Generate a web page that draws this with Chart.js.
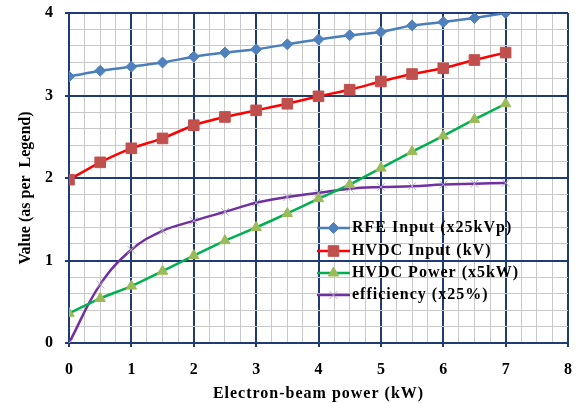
<!DOCTYPE html>
<html>
<head>
<meta charset="utf-8">
<script src="https://cdn.jsdelivr.net/npm/chart.js@4/dist/chart.umd.min.js"></script>
<style>
  body { margin: 0; background: #fff; }
  canvas { display: block; }
</style>
</head>
<body>
<canvas id="chart" width="582" height="403"></canvas>
<script>
const beamPower = [0, 0.5, 1, 1.5, 2, 2.5, 3, 3.5, 4, 4.5, 5, 5.5, 6, 6.5, 7];
const rfeInput = [3.23, 3.30, 3.35, 3.40, 3.47, 3.52, 3.56, 3.62, 3.68, 3.73, 3.77, 3.85, 3.89, 3.94, 4.00];
const hvdcInput = [1.98, 2.19, 2.36, 2.48, 2.64, 2.74, 2.82, 2.90, 2.99, 3.07, 3.17, 3.26, 3.33, 3.43, 3.52];
const hvdcPower = [0.36, 0.54, 0.69, 0.87, 1.06, 1.24, 1.40, 1.57, 1.75, 1.92, 2.12, 2.32, 2.51, 2.71, 2.90];
const efficiency = [0, 0.71, 1.13, 1.36, 1.48, 1.59, 1.70, 1.77, 1.82, 1.87, 1.89, 1.90, 1.92, 1.93, 1.94];

const seriesNames = ["RFE Input (x25kVp)", "HVDC Input (kV)", "HVDC Power (x5kW)", "efficiency (x25%)"];
const xTitle = "Electron-beam power (kW)";
const yTitle = "Value (as per  Legend)";

const serif = '"Liberation Serif", "Times New Roman", serif';
const major = "#1F3B73";
const minor = "#C8C8C8";

const pts = arr => beamPower.map((x, i) => ({ x: x, y: arr[i] }));
const isMajor = v => Math.abs(v - Math.round(v)) < 1e-6;

// legend drawn inside plot area
const insideLegend = {
  id: "insideLegend",
  afterDraw(chart) {
    const ctx = chart.ctx;
    const x0 = 317, x1 = 350, tx = 352;
    const rows = [228, 251, 273, 295];
    ctx.save();
    chart.data.datasets.forEach((ds, i) => {
      const y = rows[i];
      ctx.strokeStyle = ds.borderColor;
      ctx.lineWidth = ds.borderWidth;
      ctx.beginPath();
      ctx.moveTo(x0, y);
      ctx.lineTo(x1, y);
      ctx.stroke();
      ctx.fillStyle = ds.pointBackgroundColor;
      ctx.strokeStyle = ds.pointBorderColor;
      ctx.lineWidth = ds.pointBorderWidth;
      Chart.helpers.drawPoint(ctx, {
        pointStyle: ds.pointStyle, radius: ds.pointRadius, rotation: 0, borderWidth: ds.pointBorderWidth
      }, (x0 + x1) / 2, y);
      ctx.fillStyle = "#000";
      ctx.font = "bold 16px " + serif;
      ctx.letterSpacing = "1px";
      ctx.textBaseline = "middle";
      ctx.textAlign = "left";
      ctx.fillText(ds.label, tx, y);
    });
    ctx.restore();
  }
};

// wider x title, y title nudged down like the original
const titleTweak = {
  id: "titleTweak",
  afterUpdate(chart) {
    Object.values(chart.scales).forEach(s => {
      if (s._tweaked) return;
      s._tweaked = true;
      const proto = Object.getPrototypeOf(s);
      s.drawTitle = function () {
        const ctx = this.ctx;
        ctx.save();
        if (this.axis === "x") ctx.letterSpacing = "1px";
        else ctx.translate(0, 10);
        proto.drawTitle.call(this);
        ctx.restore();
      };
    });
  }
};

new Chart(document.getElementById("chart"), {
  type: "line",
  data: {
    datasets: [
      {
        label: seriesNames[0], data: pts(rfeInput),
        borderColor: "#4A7EBB", borderWidth: 2.5, tension: 0.15,
        pointStyle: "rectRot", pointRadius: 5.5,
        pointBackgroundColor: "#4F81BD", pointBorderColor: "#4F81BD", pointBorderWidth: 1
      },
      {
        label: seriesNames[1], data: pts(hvdcInput),
        borderColor: "#FF0000", borderWidth: 2.5, tension: 0.15,
        pointStyle: "rect", pointRadius: 7.5,
        pointBackgroundColor: "#C0504D", pointBorderColor: "#C0504D", pointBorderWidth: 1
      },
      {
        label: seriesNames[2], data: pts(hvdcPower),
        borderColor: "#00B050", borderWidth: 2.5, tension: 0.1,
        pointStyle: "triangle", pointRadius: 6,
        pointBackgroundColor: "#9BBB59", pointBorderColor: "#9BBB59", pointBorderWidth: 1
      },
      {
        label: seriesNames[3], data: pts(efficiency),
        borderColor: "#7030A0", borderWidth: 2.5, tension: 0.4,
        pointStyle: "crossRot", pointRadius: 5.5,
        pointBackgroundColor: "#B3A2C7", pointBorderColor: "#B3A2C7", pointBorderWidth: 1
      }
    ]
  },
  options: {
    responsive: false,
    animation: false,
    layout: { padding: { top: 13, right: 14, left: 0, bottom: 0 } },
    plugins: { legend: { display: false }, tooltip: { enabled: false } },
    scales: {
      x: {
        type: "linear", min: 0, max: 8,
        afterFit(s) { s.height = 60; s.paddingLeft = 0; s.paddingRight = 0; },
        ticks: {
          stepSize: 0.25, autoSkip: false, maxRotation: 0, padding: 13,
          color: "#000", font: { family: serif, size: 16, weight: "bold" },
          callback: v => isMajor(v) ? Math.round(v) : ""
        },
        grid: {
          color: c => isMajor(c.tick.value) ? major : minor,
          lineWidth: c => isMajor(c.tick.value) ? 2 : 1,
          tickColor: c => isMajor(c.tick.value) ? major : "rgba(0,0,0,0)",
          tickLength: 4
        },
        border: { color: major, width: 2 },
        title: {
          display: true, text: xTitle, color: "#000",
          font: { family: serif, size: 16, weight: "bold" },
          padding: { top: 0, bottom: 0 }
        }
      },
      y: {
        min: 0, max: 4,
        afterFit(s) { s.width = 69; s.paddingTop = 0; s.paddingBottom = 0; },
        ticks: {
          stepSize: 0.2, autoSkip: false, padding: 12,
          color: "#000", font: { family: serif, size: 16, weight: "bold" },
          callback: v => isMajor(v) ? Math.round(v) : ""
        },
        grid: {
          color: c => isMajor(c.tick.value) ? major : minor,
          lineWidth: c => isMajor(c.tick.value) ? 2 : 1,
          tickColor: c => isMajor(c.tick.value) ? major : "rgba(0,0,0,0)",
          tickLength: 4
        },
        border: { color: major, width: 2 },
        title: {
          display: true, text: yTitle, color: "#000",
          font: { family: serif, size: 16, weight: "bold" },
          padding: { top: 16, bottom: 0 }
        }
      }
    }
  },
  plugins: [titleTweak, insideLegend]
});
</script>
</body>
</html>
